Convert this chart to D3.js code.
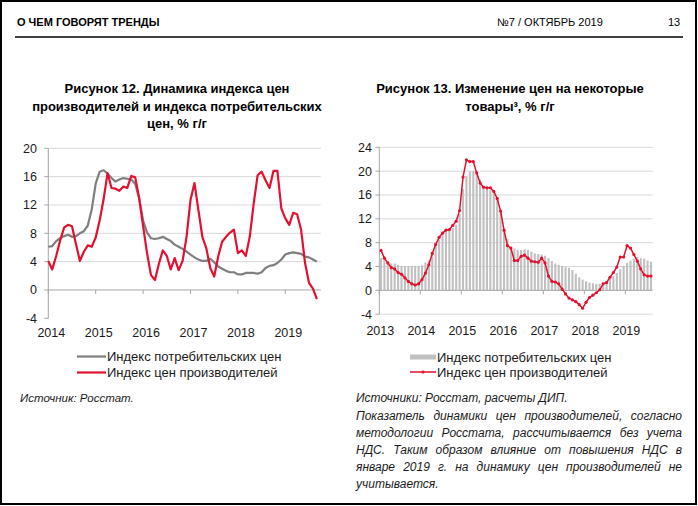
<!DOCTYPE html>
<html><head><meta charset="utf-8">
<script src="https://cdn.jsdelivr.net/npm/d3@7"></script>
<style>
body{margin:0;background:#fff;}
svg{display:block;font-family:"Liberation Sans",Arial,sans-serif;}
</style>
</head><body>
<svg id="c" width="698" height="506"></svg>
<script>
// ---------- DATA ----------
const leftYears = ["2014","2015","2016","2017","2018","2019"];
const leftYTicks = [20,16,12,8,4,0,-4];
// Индекс потребительских цен, % г/г (янв 2014 – сен 2019)
const leftCPI = [
  6.1,6.2,6.9,7.3,7.6,7.8,7.5,7.6,8.0,8.3,9.1,11.4,
  15.0,16.7,16.9,16.4,15.8,15.3,15.6,15.8,15.7,15.6,15.0,12.9,
  9.8,8.1,7.3,7.2,7.3,7.5,7.2,6.9,6.4,6.1,5.8,5.4,
  5.0,4.6,4.3,4.1,4.1,4.4,3.9,3.3,3.0,2.7,2.5,2.5,
  2.2,2.2,2.4,2.4,2.4,2.3,2.5,3.1,3.4,3.5,3.8,4.3,
  5.0,5.2,5.3,5.2,5.1,4.7,4.6,4.3,4.0
];
// Индекс цен производителей, % г/г
const leftPPI = [
  4.1,2.9,4.8,7.0,8.8,9.2,9.0,6.5,4.1,5.4,6.3,6.1,
  7.4,9.8,12.8,16.5,14.4,14.3,14.0,14.6,14.4,16.1,15.9,13.0,
  9.0,5.2,2.1,1.4,3.7,5.6,4.8,2.9,4.5,2.8,4.1,7.5,
  12.7,15.1,11.3,7.5,5.9,3.1,1.9,4.7,6.8,7.5,8.1,8.5,
  5.2,5.6,4.8,7.5,12.2,16.2,16.7,15.5,14.4,16.8,16.8,11.5,
  10.1,9.2,10.9,10.7,8.5,3.8,1.0,0.2,-1.3
];

const rightYears = ["2013","2014","2015","2016","2017","2018","2019"];
const rightYTicks = [24,20,16,12,8,4,0,-4];
// янв 2013 – авг 2019
const rightCPI = [
  5.4,5.2,4.7,4.5,4.5,4.3,4.1,4.1,4.1,4.1,4.1,4.1,
  4.2,4.7,5.0,6.0,7.5,8.5,9.4,9.9,10.2,10.5,11.0,12.8,
  17.0,19.2,20.0,20.0,19.5,18.6,17.5,17.0,16.8,16.3,15.3,13.2,
  10.3,8.6,7.3,7.0,6.8,6.8,6.9,6.8,6.5,6.2,6.1,6.0,
  5.8,5.4,4.9,4.5,4.3,4.1,3.9,3.8,3.4,2.8,2.2,1.8,
  1.5,1.3,1.2,1.1,1.1,1.3,1.6,1.9,2.4,2.9,3.5,4.1,
  4.6,5.0,5.3,5.6,5.4,5.3,5.0,4.8
];
const rightPPI = [
  6.7,5.4,4.6,3.8,3.6,3.0,2.7,2.1,1.5,1.1,0.9,1.1,
  1.8,2.9,4.3,6.2,7.7,8.9,9.6,10.1,10.2,10.9,11.6,13.4,
  19.0,21.9,21.6,21.6,19.7,18.0,17.3,17.2,17.2,16.6,15.4,13.3,
  10.1,7.5,7.1,5.0,5.0,5.7,5.9,5.4,4.9,4.8,4.7,5.4,
  4.6,2.4,1.5,1.4,1.1,0.2,-0.6,-1.3,-1.6,-1.9,-2.4,-3.0,
  -2.0,-1.2,-0.8,-0.4,0.1,1.1,1.3,2.2,3.0,3.9,5.6,5.6,
  7.5,7.1,6.0,4.9,3.6,2.6,2.4,2.4
];

const seriesNames = ["Индекс потребительских цен","Индекс цен производителей"];

// ---------- STYLE ----------
const RED = "#e3102f", GRAY_LINE = "#7f7f7f", BAR = "#c0c0c0";
const GRID = "#d9d9d9", AXIS = "#a6a6a6", TXT = "#1a1a1a";

const svg = d3.select("#c");

// frame + header
svg.append("rect").attr("x",1).attr("y",1).attr("width",695).attr("height",503)
  .attr("fill","none").attr("stroke","#000").attr("stroke-width",2);
svg.append("text").attr("x",17).attr("y",26).attr("font-size",11).attr("font-weight","bold")
  .attr("fill","#000").text("О ЧЕМ ГОВОРЯТ ТРЕНДЫ");
svg.append("text").attr("x",497).attr("y",26).attr("font-size",11).attr("fill","#000")
  .text("№7 / ОКТЯБРЬ 2019");
svg.append("text").attr("x",668).attr("y",26).attr("font-size",11).attr("fill","#000").text("13");
svg.append("line").attr("x1",15).attr("x2",683).attr("y1",37).attr("y2",37)
  .attr("stroke","#000").attr("stroke-width",1.5);

function title(lines, cx, y0, dy){
  const t = svg.append("text").attr("font-size",13).attr("font-weight","bold")
    .attr("text-anchor","middle").attr("fill","#000");
  lines.forEach((l,i)=>t.append("tspan").attr("x",cx).attr("y",y0+i*dy).text(l));
}
title(["Рисунок 12. Динамика индекса цен","производителей и индекса потребительских","цен, % г/г"],177,93,17.5);
title(["Рисунок 13. Изменение цен на некоторые","товары³, % г/г"],510,93,17.5);

// ---------- LEFT CHART ----------
{
  const x = d3.scaleLinear().domain([0, leftPPI.length]).range([48.3, 48.3 + 3.95*leftPPI.length]);
  const y = d3.scaleLinear().domain([-4,20]).range([318.3,148.3]);
  const g = svg.append("g");
  const xr = x.range()[1];
  g.selectAll(".grid").data(leftYTicks.filter(v=>v>0)).join("line")
    .attr("x1",x(0)).attr("x2",xr).attr("y1",d=>y(d)).attr("y2",d=>y(d))
    .attr("stroke",GRID).attr("stroke-width",1);
  // y axis
  g.append("line").attr("x1",x(0)).attr("x2",x(0)).attr("y1",y(20)).attr("y2",y(-4)).attr("stroke",AXIS);
  g.selectAll(".yt").data(leftYTicks).join("line")
    .attr("x1",x(0)-4).attr("x2",x(0)).attr("y1",d=>y(d)).attr("y2",d=>y(d)).attr("stroke",AXIS);
  g.selectAll(".yl").data(leftYTicks).join("text")
    .attr("x",37).attr("y",d=>y(d)).attr("dy","0.35em").attr("text-anchor","end")
    .attr("font-size",12.5).attr("fill",TXT).text(d=>d);
  // x axis at zero
  g.append("line").attr("x1",x(0)).attr("x2",xr).attr("y1",y(0)).attr("y2",y(0)).attr("stroke",AXIS);
  g.selectAll(".xt").data(leftYears).join("line")
    .attr("x1",(d,i)=>x(i*12)).attr("x2",(d,i)=>x(i*12)).attr("y1",y(0)).attr("y2",y(0)+4).attr("stroke",AXIS);
  g.selectAll(".xl").data(leftYears).join("text")
    .attr("x",(d,i)=>x(i*12)+3).attr("y",337).attr("text-anchor","middle")
    .attr("font-size",12.5).attr("fill",TXT).text(d=>d);
  const line = d3.line().x((d,i)=>x(i)).y(d=>y(d));
  g.append("path").datum(leftCPI).attr("d",line).attr("fill","none")
    .attr("stroke",GRAY_LINE).attr("stroke-width",2.2).attr("stroke-linejoin","round");
  g.append("path").datum(leftPPI).attr("d",line).attr("fill","none")
    .attr("stroke",RED).attr("stroke-width",2.2).attr("stroke-linejoin","round");
  // legend
  const lg = svg.append("g");
  [[GRAY_LINE,356.5],[RED,372.5]].forEach(([c,yy],i)=>{
    lg.append("line").attr("x1",77).attr("x2",106).attr("y1",yy).attr("y2",yy)
      .attr("stroke",c).attr("stroke-width",2.2);
    lg.append("text").attr("x",107).attr("y",yy).attr("dy","0.35em").attr("font-size",13)
      .attr("fill",TXT).text(seriesNames[i]);
  });
  svg.append("text").attr("x",20).attr("y",398).attr("dy","0.35em").attr("font-size",11.5)
    .attr("font-style","italic").attr("fill",TXT).text("Источник: Росстат.");
}

// ---------- RIGHT CHART ----------
{
  const x = d3.scaleBand().domain(d3.range(rightPPI.length)).range([379.3,652.7])
    .paddingInner(0.38).paddingOuter(0.19);
  const y = d3.scaleLinear().domain([-4,24]).range([314.2,147.3]);
  const g = svg.append("g");
  const x0 = 379.3, x1 = 652.7, step = x.step();
  g.selectAll(".grid").data(rightYTicks.filter(v=>v!==0)).join("line")
    .attr("x1",x0).attr("x2",x1).attr("y1",d=>y(d)).attr("y2",d=>y(d))
    .attr("stroke",GRID).attr("stroke-width",1);
  g.selectAll(".bar").data(rightCPI).join("rect")
    .attr("x",(d,i)=>x(i)).attr("width",x.bandwidth())
    .attr("y",d=>y(Math.max(0,d))).attr("height",d=>Math.abs(y(d)-y(0)))
    .attr("fill",BAR);
  g.append("line").attr("x1",x0).attr("x2",x0).attr("y1",y(24)).attr("y2",y(-4)).attr("stroke",AXIS);
  g.selectAll(".yt").data(rightYTicks).join("line")
    .attr("x1",x0-4).attr("x2",x0).attr("y1",d=>y(d)).attr("y2",d=>y(d)).attr("stroke",AXIS);
  g.selectAll(".yl").data(rightYTicks).join("text")
    .attr("x",372).attr("y",d=>y(d)).attr("dy","0.35em").attr("text-anchor","end")
    .attr("font-size",12.5).attr("fill",TXT).text(d=>d);
  g.append("line").attr("x1",x0).attr("x2",x1).attr("y1",y(0)).attr("y2",y(0)).attr("stroke",AXIS);
  g.selectAll(".xt").data(rightYears).join("line")
    .attr("x1",(d,i)=>x0+i*12*step).attr("x2",(d,i)=>x0+i*12*step)
    .attr("y1",y(0)).attr("y2",y(0)+4).attr("stroke",AXIS);
  g.selectAll(".xl").data(rightYears).join("text")
    .attr("x",(d,i)=>x0+i*12*step+1).attr("y",335).attr("text-anchor","middle")
    .attr("font-size",12.5).attr("fill",TXT).text(d=>d);
  const cx = i=>x(i)+x.bandwidth()/2;
  const line = d3.line().x((d,i)=>cx(i)).y(d=>y(d));
  g.append("path").datum(rightPPI).attr("d",line).attr("fill","none")
    .attr("stroke",RED).attr("stroke-width",1.5).attr("stroke-linejoin","round");
  g.selectAll(".dot").data(rightPPI).join("circle")
    .attr("cx",(d,i)=>cx(i)).attr("cy",d=>y(d)).attr("r",1.6).attr("fill",RED);
  // legend
  const lg = svg.append("g");
  lg.append("rect").attr("x",410).attr("y",354.5).attr("width",26).attr("height",5).attr("fill",BAR);
  lg.append("line").attr("x1",410).attr("x2",436).attr("y1",372).attr("y2",372)
    .attr("stroke",RED).attr("stroke-width",1.5);
  lg.append("circle").attr("cx",423).attr("cy",372).attr("r",1.6).attr("fill",RED);
  [357,372].forEach((yy,i)=>lg.append("text").attr("x",437).attr("y",yy).attr("dy","0.35em")
    .attr("font-size",13).attr("fill",TXT).text(seriesNames[i]));

  svg.append("text").attr("x",356).attr("y",398).attr("dy","0.35em").attr("font-size",12)
    .attr("font-style","italic").attr("fill",TXT).text("Источники: Росстат, расчеты ДИП.");

  const para = [
    "Показатель динамики цен производителей, согласно",
    "методологии Росстата, рассчитывается без учета",
    "НДС. Таким образом влияние от повышения НДС в",
    "январе 2019 г. на динамику цен производителей не",
    "учитывается."
  ];
  const left = 356, right = 682;
  para.forEach((ln,li)=>{
    const yy = 416 + li*16.9;
    const t = svg.append("text").attr("y",yy).attr("dy","0.35em").attr("font-size",12)
      .attr("font-style","italic").attr("fill",TXT);
    const words = ln.split(" ");
    if (li === para.length-1){ t.attr("x",left).text(ln); return; }
    const spans = words.map(w=>t.append("tspan").text(w));
    const widths = spans.map(s=>s.node().getComputedTextLength());
    const gap = (right-left-d3.sum(widths))/(words.length-1);
    let xx = left;
    spans.forEach((s,i)=>{ s.attr("x",xx); xx += widths[i]+gap; });
  });
}
</script>
</body></html>
